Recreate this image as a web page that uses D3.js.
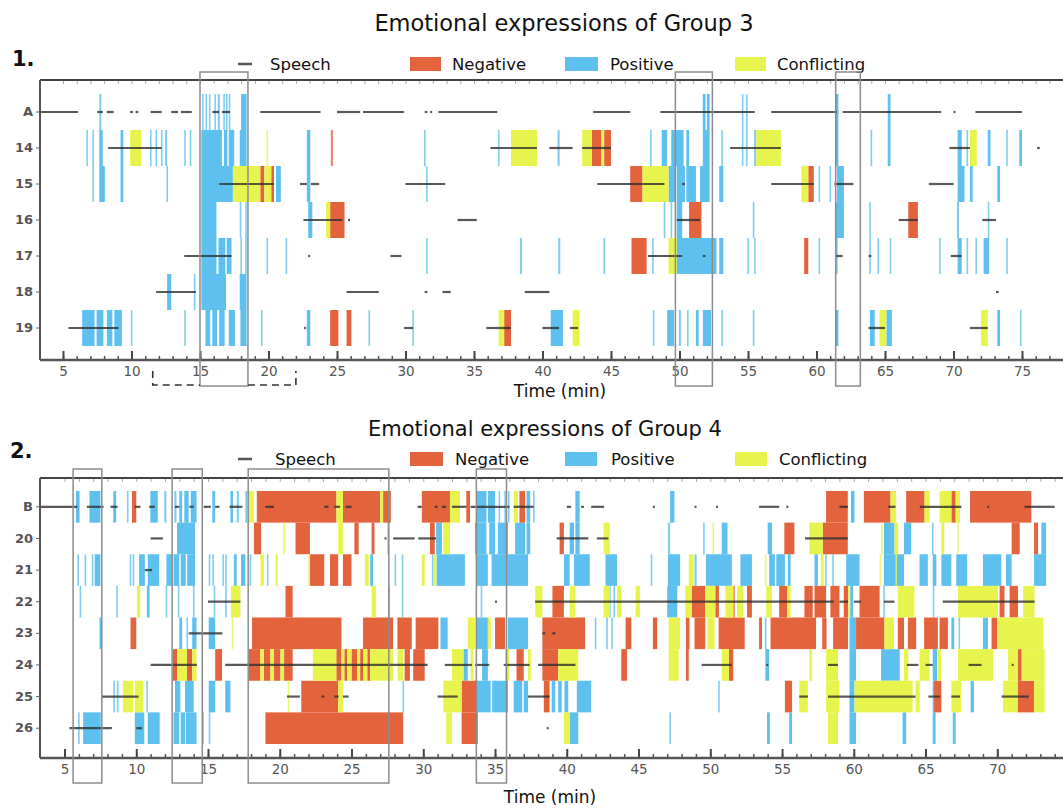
<!DOCTYPE html>
<html>
<head>
<meta charset="utf-8">
<script src="https://cdn.jsdelivr.net/npm/d3@7"></script>
<style>
  html, body { margin: 0; padding: 0; background: #fff; }
  svg { display: block; }
</style>
</head>
<body>
<svg id="chart" width="1063" height="809"></svg>
<script>
// ---------- Group 3 ----------
const g3Rows = ["A", "14", "15", "16", "17", "18", "19"];
const g3Speech = [
  ["A", [[3.4,6.1],[7.5,7.9],[8.2,8.7],[9.9,10.1],[10.3,10.5],[11.4,12.2],[12.9,13.4],[13.6,14.4],[15.9,16.4],[16.6,17.2],[19.4,23.8],[25,26.7],[26.9,29.9],[31.4,31.6],[31.8,31.9],[32.4,36.7],[43.7,46.4],[48.6,55.5],[56.7,61.5],[61.9,69.1],[70,70.1],[71.6,75]]],
  ["14", [[8.3,12.2],[36.2,39.6],[40.5,42.2],[42.9,45],[53.7,57.4],[69.7,71.2],[76.1,76.3]]],
  ["15", [[16.4,20.4],[22.3,22.8],[23.1,23.7],[30,32.9],[44,48.9],[50.2,50.4],[56.7,59.8],[61.3,62.7],[68.2,70]]],
  ["16", [[22.55,25.4],[25.8,25.95],[33.8,35.2],[49.8,51.5],[66,67.4],[72.1,73.1]]],
  ["17", [[13.85,17.3],[22.9,23.0],[28.9,29.7],[47.7,50.2],[51.7,51.9],[61.4,61.9],[63.8,64.0],[69.8,70.6]]],
  ["18", [[11.8,14.7],[25.7,28.05],[31.4,31.6],[32.7,33.3],[38.7,40.5],[73.1,73.3]]],
  ["19", [[5.4,9.05],[22.6,22.7],[29.9,30.55],[35.9,37.7],[40,41.2],[42,42.6],[63.8,65],[71.2,72.5]]]
];
const g3Positive = [
  ["A", [[7.65,7.8],[15.15,15.25],[15.4,15.5],[15.65,15.75],[16.05,16.15],[16.3,16.45],[16.7,16.8],[16.9,17.0],[17.1,17.2],[18.0,18.4],[51.7,51.9],[52.0,52.2],[54.55,54.65],[54.85,54.95],[61.4,61.6],[65.2,65.4]]],
  ["14", [[6.7,6.8],[7.15,7.25],[7.65,7.9],[9.2,9.4],[11.35,11.45],[11.75,11.85],[12.15,12.25],[12.45,12.6],[13.85,13.95],[14.25,14.35],[15.1,16.6],[16.75,17.0],[17.1,17.5],[17.9,18.4],[22.8,23.05],[31.35,31.45],[36.75,36.85],[41.1,41.25],[47.85,47.95],[48.7,49.1],[49.4,50.3],[50.5,50.7],[51.7,52.2],[53.05,53.15],[54.55,54.65],[54.85,54.95],[55.45,55.6],[61.4,61.6],[63.95,64.05],[65.2,65.4],[70.3,70.6],[70.95,71.05],[72.5,72.7],[73.85,73.95],[74.8,75.0]]],
  ["15", [[7.15,7.25],[7.65,8.05],[9.2,9.4],[12.55,12.65],[15.1,17.4],[20.55,20.9],[22.8,23.05],[31.5,31.6],[49.2,49.7],[49.8,50.4],[50.5,51.2],[51.5,52.2],[52.9,53.2],[60.15,60.25],[60.95,61.05],[61.5,62.0],[70.3,70.8],[71.2,71.4],[73.2,73.4]]],
  ["16", [[15.1,16.2],[17.9,18.0],[18.3,18.4],[22.9,23.2],[48.85,48.95],[49.35,49.45],[49.8,50.2],[55.35,55.45],[61.4,62.0],[63.85,63.95],[70.25,70.4],[72.5,72.6]]],
  ["17", [[15.1,16.2],[16.35,16.85],[16.95,17.3],[17.95,18.05],[18.3,18.4],[19.85,19.95],[21.25,21.35],[31.5,31.6],[38.35,38.5],[41.15,41.3],[44.45,44.55],[48.0,48.1],[49.8,52.7],[52.9,53.2],[54.95,55.05],[55.45,55.55],[60.15,60.25],[61.4,61.55],[63.85,63.95],[64.45,64.55],[65.35,65.45],[68.95,69.05],[70.3,70.6],[70.95,71.05],[71.6,71.7],[72.2,72.6],[73.85,73.95]]],
  ["18", [[12.6,12.9],[14.55,14.65],[15.1,16.9],[17.9,18.4]]],
  ["19", [[6.4,7.3],[7.45,7.95],[8.2,8.6],[8.75,9.3],[9.95,10.05],[13.85,13.95],[15.4,15.75],[15.9,16.25],[16.4,16.8],[17.1,17.55],[17.95,18.4],[19.45,19.55],[22.8,23.05],[27.3,27.4],[30.5,30.6],[40.6,41.5],[48.05,48.15],[49.1,49.6],[49.95,50.1],[50.55,50.65],[51.2,51.4],[51.7,52.3],[53.05,53.15],[55.35,55.45],[61.4,61.6],[63.9,64.25],[65.1,65.5],[73.2,73.4],[74.85,74.95]]]
];
const g3Negative = [
  ["14", [[24.55,24.7],[43.6,44.3],[44.5,45.0]]],
  ["15", [[19.4,19.7],[20.2,20.4],[46.4,47.3],[59.4,59.8]]],
  ["16", [[24.5,25.55],[50.7,51.6],[66.7,67.4]]],
  ["17", [[46.5,47.6],[59.1,59.4]]],
  ["19", [[24.5,25.1],[25.7,26.05],[37.2,37.7]]]
];
const g3Conflicting = [
  ["14", [[9.9,10.7],[19.85,19.95],[37.7,39.6],[42.9,43.6],[44.3,44.5],[55.6,57.4],[71.2,71.7]]],
  ["15", [[17.4,19.4],[19.7,20.2],[47.3,49.2],[58.9,59.4]]],
  ["16", [[24.2,24.5]]],
  ["17", [[49.2,49.8]]],
  ["19", [[36.8,37.2],[42.2,42.7],[64.6,65.1],[72.0,72.5]]]
];
const g3Highlights = [[15.0,18.5],[49.7,52.4],[61.4,63.2]];
const g3Bracket = [11.55, 22.0];
const g3Ticks = [5,10,15,20,25,30,35,40,45,50,55,60,65,70,75];

// ---------- Group 4 ----------
const g4Rows = ["B", "20", "21", "22", "23", "24", "25", "26"];
const g4Speech = [
  ["B", [[3.3,5.9],[6.56,7.72],[8.2,8.7],[9.9,10.3],[10.9,11.3],[12.7,13.0],[13.7,14.0],[14.7,15.2],[15.5,15.8],[16.5,17.4],[19.0,19.6],[23.1,23.4],[23.8,24.2],[24.6,25.0],[29.6,29.9],[30.8,31.0],[31.3,31.6],[32.0,33.0],[33.3,36.0],[36.3,37.7],[40.0,40.3],[41.0,41.2],[41.7,42.6],[46.0,46.1],[48.9,49.0],[50.4,50.5],[53.4,54.8],[55.3,55.4],[59.0,59.6],[62.4,62.9],[64.6,67.5],[69.3,69.4],[71.9,74.0]]],
  ["20", [[11.0,11.86],[27.3,27.4],[27.9,29.4],[29.65,30.9],[39.3,41.5],[42.1,42.9],[56.6,59.58]]],
  ["21", [[10.6,11.1]]],
  ["22", [[15.0,17.26],[35.0,35.1],[37.8,58.6],[59.0,59.6],[60.0,60.5],[62.1,62.84],[66.2,72.6]]],
  ["23", [[13.65,16.0],[38.3,38.5],[39.0,39.2]]],
  ["24", [[11.0,14.23],[16.2,30.3],[31.5,33.4],[33.6,34.6],[35.6,37.4],[38.0,40.6],[49.4,51.5],[53.9,54.0],[58.2,58.9],[63.7,64.5],[65.0,65.5],[68.0,68.9],[71.0,71.1]]],
  ["25", [[7.6,10.16],[20.5,21.4],[22.9,23.1],[23.8,24.1],[24.4,24.8],[31.0,32.4],[37.3,38.8],[56.2,56.8],[58.2,64.3],[65.2,66.0],[66.8,67.4],[70.3,72.2]]],
  ["26", [[5.35,8.3],[10.0,10.4],[38.6,38.7]]]
];
const g4Positive = [
  ["B", [[5.8,6.05],[6.74,7.5],[8.4,8.6],[9.35,9.45],[10.98,11.5],[11.95,12.1],[12.65,12.8],[13.0,13.2],[13.35,13.65],[13.8,14.2],[15.3,15.5],[16.56,16.74],[17.0,17.15],[17.6,17.75],[33.7,34.4],[34.5,35.0],[35.25,35.35],[35.65,35.75],[35.9,36.0],[37.2,37.45],[37.65,37.75],[40.6,40.9],[47.2,47.5],[59.8,60.05]]],
  ["20", [[12.84,14.1],[27.5,27.6],[30.9,31.3],[33.6,34.4],[34.6,35.0],[35.2,35.9],[36.4,37.1],[37.2,37.45],[40.2,40.5],[40.6,40.9],[47.05,47.2],[49.5,49.6],[50.8,51.2],[54.0,54.3],[62.1,62.84],[63.5,64.0],[65.45,65.55],[73.07,73.4]]],
  ["21", [[5.9,6.0],[6.4,6.5],[6.9,7.0],[7.1,7.5],[9.55,9.65],[9.75,9.85],[10.2,10.6],[10.8,11.6],[12.1,12.5],[12.6,13.0],[13.1,13.45],[13.55,14.1],[15.05,15.15],[15.3,15.4],[16.0,16.1],[16.2,16.3],[16.8,17.0],[17.3,17.6],[17.9,18.0],[19.1,19.2],[26.3,26.5],[28.0,28.1],[28.5,28.6],[30.6,30.7],[30.93,32.9],[33.7,34.5],[34.76,37.3],[39.8,40.2],[40.5,41.6],[42.7,43.5],[45.85,45.95],[47.05,47.9],[48.9,49.05],[49.7,51.5],[52.1,52.9],[54.1,54.5],[54.6,55.2],[55.4,55.6],[57.26,57.5],[58.0,58.1],[58.5,58.6],[59.47,60.4],[62.1,63.5],[64.58,65.16],[65.5,65.75],[66.1,66.8],[67.14,67.9],[69.0,70.28],[70.6,71.0],[72.56,73.4]]],
  ["22", [[6.05,6.15],[8.6,8.7],[10.74,10.93],[12.05,12.15],[12.9,13.0],[13.95,14.05],[15.4,15.5],[16.2,16.3],[28.5,28.6],[34.0,34.1],[42.95,43.05],[43.25,43.35],[47.0,47.7],[59.75,59.95],[62.05,62.15],[65.5,65.6]]],
  ["23", [[7.44,7.6],[13.0,13.2],[13.5,13.6],[13.9,14.2],[15.05,15.5],[31.2,31.7],[33.7,34.5],[35.9,37.3],[41.95,42.05],[42.75,42.85],[43.1,43.2],[53.8,53.9],[58.9,59.0],[59.7,60.16],[66.8,67.0],[67.3,67.4],[69.0,69.35]]],
  ["24", [[32.8,33.1],[34.1,34.5],[53.84,54.1],[59.7,60.16],[61.9,63.2],[65.5,65.8]]],
  ["25", [[8.4,8.5],[8.65,8.75],[10.7,10.8],[12.7,13.07],[13.4,14.0],[15.05,15.5],[16.2,16.56],[28.55,28.65],[33.7,34.7],[34.8,35.9],[36.3,36.9],[37.0,37.3],[38.95,39.2],[39.4,39.65],[39.84,40.1],[40.7,41.7],[50.55,50.65],[59.7,60.05],[65.5,65.7],[68.14,68.37]]],
  ["26", [[5.95,6.05],[6.3,7.53],[9.9,10.56],[10.8,11.63],[12.6,13.0],[13.1,13.4],[13.45,14.2],[14.6,14.7],[15.05,15.15],[40.2,40.8],[47.15,47.25],[53.95,54.15],[55.5,55.7],[59.7,60.16],[63.4,63.65],[65.5,65.7],[66.9,67.1]]]
];
const g4Negative = [
  ["B", [[9.7,10.0],[18.4,23.95],[24.4,27.0],[27.2,27.74],[29.9,31.86],[33.0,33.26],[36.7,37.1],[58.07,59.58],[60.7,62.56],[63.65,64.93],[66.8,67.1],[68.1,72.37]]],
  ["20", [[18.2,18.7],[21.1,22.1],[25.2,25.5],[26.4,26.6],[30.47,30.8],[39.5,39.8],[55.16,55.86],[57.84,59.58],[71.0,71.56],[72.56,72.84]]],
  ["21", [[22.1,23.1],[23.5,24.07],[24.4,25.0]]],
  ["22", [[20.4,20.9],[27.55,27.65],[39.0,39.8],[48.7,49.65],[50.35,50.6],[51.6,51.7],[52.56,52.9],[54.8,55.35],[56.56,57.14],[57.26,58.07],[58.37,59.0],[59.3,59.6],[60.4,61.8],[70.16,70.5],[70.86,71.44]]],
  ["23", [[9.6,10.0],[18.07,24.3],[25.8,27.9],[28.2,29.2],[29.47,31.05],[35.0,35.7],[38.3,41.28],[44.1,44.5],[46.0,46.3],[48.3,48.55],[48.9,49.65],[50.58,52.4],[53.4,53.6],[54.2,57.37],[57.8,58.1],[58.56,59.6],[60.16,62.14],[63.07,63.5],[63.77,64.35],[64.9,65.86],[65.98,66.56],[69.6,70.0]]],
  ["24", [[12.56,12.84],[13.53,13.9],[15.5,15.98],[17.84,18.65],[18.9,19.35],[19.6,20.05],[20.3,20.9],[23.94,24.3],[24.5,24.7],[25.0,25.4],[25.6,25.8],[26.1,26.3],[28.7,29.07],[29.3,30.1],[36.5,37.0],[38.3,39.4],[43.8,44.2],[48.3,48.5],[51.3,51.6],[71.44,71.7]]],
  ["25", [[21.5,24.07],[32.67,33.7],[38.4,38.8],[55.2,55.7],[65.6,66.1],[71.4,72.56]]],
  ["26", [[19.0,28.6],[32.67,33.8]]]
];
const g4Conflicting = [
  ["B", [[17.8,18.2],[23.95,24.4],[27.0,27.2],[31.86,32.56],[36.3,36.6],[62.56,62.95],[64.93,65.3],[65.98,66.8],[67.1,67.4]]],
  ["20", [[20.25,20.35],[24.07,24.4],[31.4,31.86],[42.56,43.0],[50.15,50.25],[56.9,57.84],[61.9,62.0],[62.84,63.1],[66.1,66.3],[67.2,67.3]]],
  ["21", [[18.65,18.9],[19.7,19.86],[22.0,22.1],[25.93,26.2],[29.9,30.1],[30.7,30.9],[48.5,48.84],[53.8,53.9],[57.7,57.9],[61.8,61.9],[62.9,63.0]]],
  ["22", [[10.05,10.28],[16.6,17.26],[26.4,26.7],[37.8,38.3],[40.2,40.6],[42.56,43.0],[43.5,43.8],[44.8,45.1],[48.26,48.7],[49.65,50.35],[51.05,51.6],[51.86,52.3],[53.9,54.3],[55.35,55.6],[59.6,59.75],[63.07,64.23],[67.26,70.05],[71.8,72.6]]],
  ["23", [[16.65,16.75],[33.1,33.6],[34.5,34.7],[47.1,47.9],[49.8,50.3],[62.14,62.8],[70.0,73.2]]],
  ["24", [[12.84,13.53],[13.9,14.2],[18.65,18.9],[19.35,19.6],[20.05,20.3],[22.3,23.94],[24.3,24.5],[24.7,25.0],[25.4,25.6],[25.8,26.1],[26.3,27.9],[28.2,28.6],[32.0,32.8],[33.3,33.5],[35.7,36.0],[37.3,37.5],[39.4,40.8],[47.1,47.8],[50.8,51.3],[56.9,57.1],[58.07,58.9],[63.5,63.8],[64.58,65.28],[65.86,66.1],[67.26,69.7],[70.74,71.44],[71.7,73.3]]],
  ["25", [[9.07,9.8],[9.9,10.5],[20.55,20.65],[24.07,24.4],[31.4,32.67],[56.2,56.8],[58.07,59.0],[60.05,64.1],[64.3,64.6],[66.8,67.5],[70.4,71.44],[72.56,73.3]]],
  ["26", [[31.6,32.0],[39.8,40.2],[58.2,58.9]]]
];
const g4Highlights = [[5.6,7.6],[12.5,14.6],[17.8,27.6],[33.7,35.8]];
const g4Ticks = [5,10,15,20,25,30,35,40,45,50,55,60,65,70];

// ---------- drawing ----------
const COLORS = { negative: "#E3633C", positive: "#5EC0EE", conflicting: "#E8F44E", speech: "#2e2e2e" };
const TEXT_FONT = "'DejaVu Sans', sans-serif";
const svg = d3.select("#chart");

function flat(list) {
  return list.flatMap(([row, segs]) => segs.map(([s, e]) => ({ row, s, e })));
}

function drawPanel(p) {
  const g = svg.append("g");
  const x = d3.scaleLinear().domain(p.xDomain).range(p.xRange);
  const y = d3.scaleBand().domain(p.rows).range([p.bandTop, p.bandBottom]).padding(0);
  const clipId = "clip" + p.id;
  svg.append("clipPath").attr("id", clipId)
    .append("rect").attr("x", p.left).attr("y", p.top).attr("width", 1063 - p.left).attr("height", p.axisY - p.top);

  // titles
  g.append("text").attr("x", p.titleX).attr("y", p.titleY).attr("text-anchor", "middle")
    .attr("font-family", TEXT_FONT).attr("font-size", p.titleSize).attr("fill", "#111").text(p.title);
  g.append("text").attr("x", p.numX).attr("y", p.numY)
    .attr("font-family", TEXT_FONT).attr("font-size", 21).attr("font-weight", 600).attr("fill", "#111").text(p.num);

  // legend
  const lg = g.append("g").attr("font-family", TEXT_FONT).attr("font-size", 16.5).attr("fill", "#111");
  lg.append("line").attr("x1", 238).attr("x2", 252).attr("y1", p.legendY).attr("y2", p.legendY)
    .attr("stroke", "#555").attr("stroke-width", 2.5);
  lg.append("text").attr("x", p.legend.speech).attr("y", p.legendY + 6).text("Speech");
  [["negative", "Negative"], ["positive", "Positive"], ["conflicting", "Conflicting"]].forEach(([k, label]) => {
    const [sx, sw, tx] = p.legend[k];
    lg.append("rect").attr("x", sx).attr("y", p.legendY - 7).attr("width", sw).attr("height", 14).attr("fill", COLORS[k]);
    lg.append("text").attr("x", tx).attr("y", p.legendY + 6).text(label);
  });

  // emotion bars
  const marks = g.append("g").attr("clip-path", `url(#${clipId})`);
  [["positive", p.positive], ["negative", p.negative], ["conflicting", p.conflicting]].forEach(([k, data]) => {
    marks.append("g").selectAll("rect").data(flat(data)).join("rect")
      .attr("x", d => x(d.s))
      .attr("width", d => Math.max(x(d.e) - x(d.s), 1.6))
      .attr("y", d => y(d.row))
      .attr("height", y.bandwidth())
      .attr("fill", COLORS[k])
      .attr("fill-opacity", d => (x(d.e) - x(d.s) < 2.2 ? 0.8 : 1));
  });

  // speech segments
  marks.append("g").selectAll("line").data(flat(p.speech)).join("line")
    .attr("x1", d => x(d.s)).attr("x2", d => Math.max(x(d.e), x(d.s) + 2))
    .attr("y1", d => y(d.row) + y.bandwidth() / 2).attr("y2", d => y(d.row) + y.bandwidth() / 2)
    .attr("stroke", COLORS.speech).attr("stroke-width", 2.2).attr("stroke-opacity", 0.8);

  // frame: top line with light minor ticks
  const minor = d3.range(Math.ceil(p.xDomain[0]), 79, 1).filter(t => x(t) > p.left && x(t) < 1063);
  const top = g.append("g").attr("transform", `translate(0,${p.top})`)
    .call(d3.axisTop(x).tickValues(minor).tickSize(-4).tickFormat(""));
  top.select(".domain").remove();
  top.selectAll(".tick line").attr("stroke", "#aaa");
  g.append("line").attr("x1", p.left).attr("x2", 1063).attr("y1", p.top).attr("y2", p.top)
    .attr("stroke", "#444").attr("stroke-width", 2);

  // bottom axis: minor ticks every minute, major ticks with labels every 5
  const bMinor = g.append("g").attr("transform", `translate(0,${p.axisY})`)
    .call(d3.axisBottom(x).tickValues(minor).tickSize(-4).tickFormat(""));
  bMinor.select(".domain").remove();
  bMinor.selectAll(".tick line").attr("stroke", "#555").attr("stroke-width", 1.5);
  const bMajor = g.append("g").attr("transform", `translate(0,${p.axisY})`)
    .call(d3.axisBottom(x).tickValues(p.ticks).tickSize(-9).tickPadding(6));
  bMajor.select(".domain").remove();
  bMajor.selectAll(".tick line").attr("stroke", "#444").attr("stroke-width", 2);
  bMajor.selectAll(".tick text").attr("font-family", TEXT_FONT).attr("font-size", 13.5).attr("fill", "#555");
  g.append("line").attr("x1", p.left).attr("x2", 1063).attr("y1", p.axisY).attr("y2", p.axisY)
    .attr("stroke", "#555").attr("stroke-width", 2.5);

  // left axis with row labels
  const left = g.append("g").attr("transform", `translate(${p.left},0)`)
    .call(d3.axisLeft(y).tickSize(4).tickPadding(3));
  left.select(".domain").remove();
  left.selectAll(".tick line").attr("stroke", "#666");
  left.selectAll(".tick text").attr("font-family", TEXT_FONT).attr("font-size", 13)
    .attr("font-weight", "bold").attr("fill", "#555");
  g.append("line").attr("x1", p.left).attr("x2", p.left).attr("y1", p.top).attr("y2", p.axisY)
    .attr("stroke", "#555").attr("stroke-width", 2);

  g.append("text").attr("x", p.xLabelX).attr("y", p.xLabelY).attr("text-anchor", "middle")
    .attr("font-family", TEXT_FONT).attr("font-size", 17).attr("fill", "#111").text("Time (min)");

  // highlighted intervals
  g.append("g").selectAll("rect").data(p.highlights).join("rect")
    .attr("x", d => x(d[0])).attr("width", d => x(d[1]) - x(d[0]))
    .attr("y", p.hlTop).attr("height", p.hlBottom - p.hlTop)
    .attr("fill", "none").attr("stroke", "#8c8c8c").attr("stroke-width", 1.5);

  return { g, x };
}

const p1 = drawPanel({
  id: 1, title: "Emotional expressions of Group 3", titleX: 564, titleY: 31, titleSize: 22.5, num: "1.", numX: 12, numY: 66,
  legendY: 64, legend: { speech: 270, negative: [410, 31, 452], positive: [565, 33, 610], conflicting: [735, 31, 777] },
  rows: g3Rows, xDomain: [5, 75], xRange: [63, 1022], left: 40, top: 80, axisY: 360, bandTop: 94, bandBottom: 346,
  speech: g3Speech, positive: g3Positive, negative: g3Negative, conflicting: g3Conflicting,
  ticks: g3Ticks, highlights: g3Highlights, hlTop: 72, hlBottom: 386, xLabelX: 560, xLabelY: 397
});

// dashed bracket under the first highlighted interval
const bx = p1.x;
p1.g.append("path")
  .attr("d", `M${bx(g3Bracket[0])},371 V385 H${bx(g3Highlights[0][0])} M${bx(g3Highlights[0][1])},385 H${bx(g3Bracket[1])} V371`)
  .attr("fill", "none").attr("stroke", "#333").attr("stroke-width", 1.6).attr("stroke-dasharray", "7,5");

drawPanel({
  id: 2, title: "Emotional expressions of Group 4", titleX: 545, titleY: 436, titleSize: 21, num: "2.", numX: 10, numY: 458,
  legendY: 459, legend: { speech: 275, negative: [410, 33, 455], positive: [565, 32, 611], conflicting: [735, 32, 779] },
  rows: g4Rows, xDomain: [5, 70], xRange: [64.5, 997.3], left: 40, top: 478, axisY: 758, bandTop: 491, bandBottom: 744,
  speech: g4Speech, positive: g4Positive, negative: g4Negative, conflicting: g4Conflicting,
  ticks: g4Ticks, highlights: g4Highlights, hlTop: 469, hlBottom: 783, xLabelX: 550, xLabelY: 803
});
</script>
</body>
</html>
